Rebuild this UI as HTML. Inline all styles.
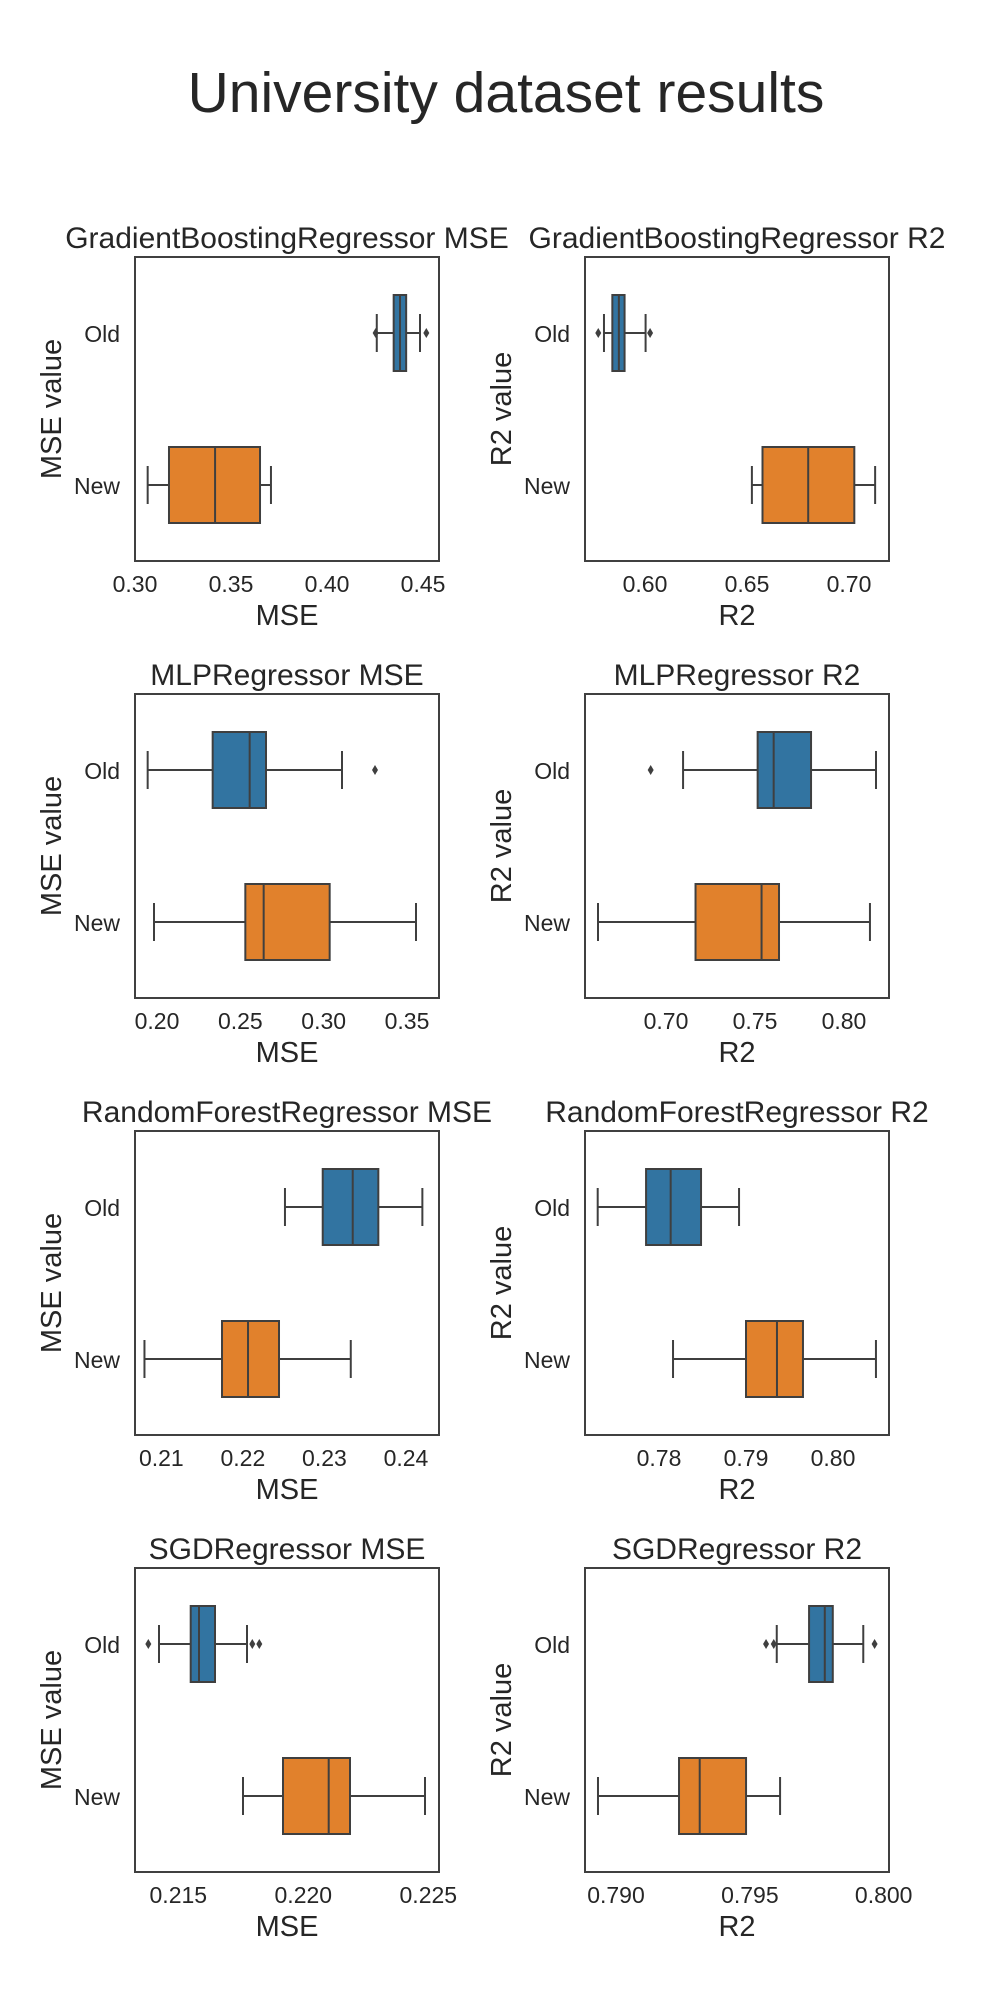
<!DOCTYPE html>
<html>
<head>
<meta charset="utf-8">
<style>
  html,body{margin:0;padding:0;background:#fff;}
  svg{display:block;}
  text{font-family:"Liberation Sans",Arial,sans-serif;fill:#262626;}
</style>
</head>
<body>
<svg id="fig" width="1000" height="2000" viewBox="0 0 1000 2000" xmlns="http://www.w3.org/2000/svg">
  <rect x="0" y="0" width="1000" height="2000" fill="#ffffff"/>
  <text x="506" y="112" font-size="57" text-anchor="middle">University dataset results</text>
</svg>
<script>
// ---- data ----
const panelTitles = [
  "GradientBoostingRegressor MSE","GradientBoostingRegressor R2",
  "MLPRegressor MSE","MLPRegressor R2",
  "RandomForestRegressor MSE","RandomForestRegressor R2",
  "SGDRegressor MSE","SGDRegressor R2"
];
const metricLabels = ["MSE","R2","MSE","R2","MSE","R2","MSE","R2"];
const categories = ["Old","New"];
// x-axis limits per panel
const xMin = [0.3000,0.5706,0.1868,0.6545,0.20677,0.77149,0.213268,0.788842];
const xMax = [0.4583,0.7196,0.3692,0.8253,0.24405,0.80644,0.225428,0.800198];
// tick labels per panel
const tickLabels = [
  ["0.30","0.35","0.40","0.45"],
  ["0.60","0.65","0.70"],
  ["0.20","0.25","0.30","0.35"],
  ["0.70","0.75","0.80"],
  ["0.21","0.22","0.23","0.24"],
  ["0.78","0.79","0.80"],
  ["0.215","0.220","0.225"],
  ["0.790","0.795","0.800"]
];
// box stats [whisker-low, q1, median, q3, whisker-high]
const oldStats = [
  [0.4259,0.4347,0.4380,0.4412,0.4484],
  [0.5799,0.5840,0.5872,0.5900,0.6003],
  [0.1944,0.2334,0.2556,0.2654,0.3110],
  [0.7096,0.7515,0.7605,0.7815,0.8180],
  [0.22516,0.22979,0.23347,0.23661,0.24201],
  [0.77295,0.77851,0.78134,0.78483,0.78920],
  [0.214228,0.215496,0.215828,0.216468,0.217748],
  [0.796005,0.797212,0.797799,0.798098,0.799237]
];
const newStats = [
  [0.3066,0.3177,0.3417,0.3651,0.3708],
  [0.6524,0.6576,0.6800,0.7026,0.7128],
  [0.1982,0.2530,0.2640,0.3036,0.3554],
  [0.6618,0.7166,0.7537,0.7635,0.8146],
  [0.20793,0.21744,0.22063,0.22443,0.23323],
  [0.78161,0.79000,0.79356,0.79655,0.80494],
  [0.217588,0.219188,0.221016,0.221868,0.224868],
  [0.789327,0.792354,0.793127,0.794858,0.796129]
];
const oldOutliers = [
  [0.4253,0.4517],
  [0.5771,0.6025],
  [0.3308],
  [0.6914],
  [],
  [],
  [0.213801,0.217960,0.218240],
  [0.795605,0.795893,0.799660]
];
const newOutliers = [[],[],[],[],[],[],[],[]];

// ---- drawing ----
const NS = "http://www.w3.org/2000/svg";
const svg = document.getElementById("fig");
const colors = ["#3274a1","#e1812c"];
const LINE = "#3f3f3f";
const AX_W = 304, AX_H = 304;
const colX = [135,585];
const rowY = [257,694,1131,1568];

function mk(tag, attrs, parent){
  const e = document.createElementNS(NS, tag);
  for (const k in attrs) e.setAttribute(k, attrs[k]);
  (parent||svg).appendChild(e);
  return e;
}

for (let p = 0; p < 8; p++){
  const left = colX[p % 2], top = rowY[Math.floor(p / 2)];
  const g = mk("g", {});
  
  
  const sx = v => left + (v - xMin[p]) / (xMax[p] - xMin[p]) * AX_W;
  const sy = i => top + AX_H * (i + 0.5) / categories.length;

  const title = mk("text", {x: left + AX_W / 2, y: top - 9, "font-size": 30, "text-anchor": "middle"}, g);
  title.textContent = panelTitles[p];
  
  

  // ticks
  tickLabels[p].forEach(t => {
    const tx = mk("text", {x: sx(parseFloat(t)), y: top + AX_H + 31, "font-size": 23, "text-anchor": "middle"}, g);
    tx.textContent = t;
    
    
  });
  categories.forEach((c, i) => {
    const ty = mk("text", {x: left - 15, y: sy(i) + 9, "font-size": 23, "text-anchor": "end"}, g);
    ty.textContent = c;
    
    
  });

  const xl = mk("text", {x: left + AX_W / 2, y: top + AX_H + 64, "font-size": 29, "text-anchor": "middle"}, g);
  xl.textContent = metricLabels[p];
  
  
  const yx = left - 74, yy = top + AX_H / 2;
  const yl = mk("text", {x: yx, y: yy, "font-size": 29, "text-anchor": "middle", transform: "rotate(-90 " + yx + " " + yy + ")"}, g);
  yl.textContent = metricLabels[p] + " value";
  
  

  // boxes
  [oldStats[p], newStats[p]].forEach((s, i) => {
    const cy = sy(i), hb = 38, hc = 19;
    const bg = mk("g", {stroke: LINE, "stroke-width": 2}, g);
    
    
    const w1 = mk("line", {x1: sx(s[0]), x2: sx(s[1]), y1: cy, y2: cy}, bg);
    
    
    const w2 = mk("line", {x1: sx(s[3]), x2: sx(s[4]), y1: cy, y2: cy}, bg);
    
    
    const c1 = mk("line", {x1: sx(s[0]), x2: sx(s[0]), y1: cy - hc, y2: cy + hc}, bg);
    
    
    const c2 = mk("line", {x1: sx(s[4]), x2: sx(s[4]), y1: cy - hc, y2: cy + hc}, bg);
    
    
    const r = mk("rect", {x: sx(s[1]), y: cy - hb, width: sx(s[3]) - sx(s[1]), height: 2 * hb, fill: colors[i]}, bg);
    
    
    const m = mk("line", {x1: sx(s[2]), x2: sx(s[2]), y1: cy - hb, y2: cy + hb}, bg);
    
    
  });
  [oldOutliers[p], newOutliers[p]].forEach((arr, i) => {
    arr.forEach(v => {
      const x = sx(v), y = sy(i);
      const d = mk("polygon", {points: (x) + "," + (y - 5) + " " + (x + 3) + "," + y + " " + x + "," + (y + 5) + " " + (x - 3) + "," + y, fill: LINE}, g);
      
      
    });
  });

  const frame = mk("rect", {x: left, y: top, width: AX_W, height: AX_H, fill: "none", stroke: "#404040", "stroke-width": 2}, g);
  
  
}
</script>
</body>
</html>
